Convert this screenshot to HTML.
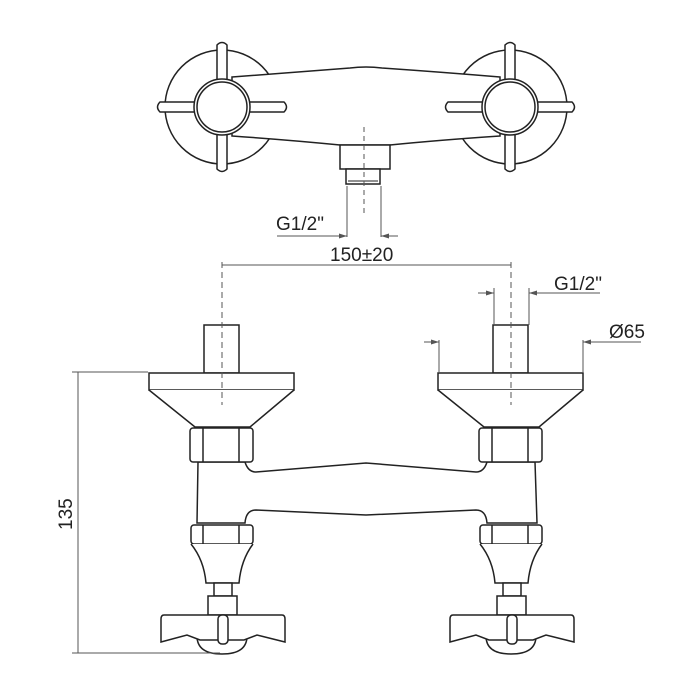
<!DOCTYPE html>
<html><head><meta charset="utf-8"><style>
html,body{margin:0;padding:0;background:#fff;width:700px;height:700px;overflow:hidden}
svg{display:block}
text{font-family:"Liberation Sans Narrow","Liberation Sans",sans-serif;fill:#222;font-size:19px}
</style></head><body>
<svg width="700" height="700" viewBox="0 0 700 700" xmlns="http://www.w3.org/2000/svg">
<defs>
<marker id="ar" markerWidth="8" markerHeight="6" refX="8" refY="3" orient="auto" markerUnits="userSpaceOnUse"><path d="M0,0.5 L8,3 L0,5.5" fill="#555"/></marker>
<g id="topknob" fill="#fff" stroke="#222" stroke-width="1.5">
  <circle cx="0" cy="0" r="57"/>
</g>
<g id="cross" fill="#fff" stroke="#222" stroke-width="1.5">
  <path d="M-62,-5 L62,-5 Q67,0 62,5 L-62,5 Q-67,0 -62,-5Z"/>
  <path d="M-5,-62 L-5,62 Q0,67 5,62 L5,-62 Q0,-67 -5,-62Z"/>
  <circle cx="0" cy="0" r="28"/>
  <circle cx="0" cy="0" r="25"/>
</g>
<g id="unit" fill="#fff" stroke="#222" stroke-width="1.5">
  <rect x="-18" y="325" width="35" height="48"/>
  <rect x="-73" y="373" width="145" height="17"/>
  <path d="M-73,390 L-27,427 L28,427 L72,390"/>
  <rect x="-32" y="428" width="63" height="34" rx="3"/>
  <line x1="-19" y1="428" x2="-19" y2="462"/><line x1="17" y1="428" x2="17" y2="462"/>
  <rect x="-31" y="525" width="62" height="19" rx="3"/>
  <line x1="-19" y1="525" x2="-19" y2="544"/><line x1="17" y1="525" x2="17" y2="544"/>
  <path d="M-31,544 Q-18,560 -16,583 L17,583 Q19,560 31,544"/>
  <rect x="-8" y="583" width="18" height="13"/>
  <rect x="-14" y="596" width="29" height="19"/>
  <path d="M-25,636 Q-25,654 0,654 Q25,654 25,636"/>
  <path d="M-58,615 L60,615 Q63,615 63,619 L63,642 L35,635 L22,640 L-22,640 L-35,635 L-61,642 L-61,619 Q-61,615 -58,615Z"/>
  <rect x="-4" y="615" width="10" height="29" rx="4"/>
</g>
</defs>

<use href="#topknob" x="222" y="107"/>
<use href="#topknob" x="510" y="107"/>
<path d="M232,77 Q300,72 350,68 Q366,66 382,68 Q440,72 500,77 L500,136 Q440,140 390,145 L340,145 Q290,140 232,136Z" fill="#fff" stroke="#222" stroke-width="1.5"/>
<rect x="340" y="145" width="50" height="24" fill="#fff" stroke="#222" stroke-width="1.5"/>
<rect x="346" y="169" width="34" height="15" fill="#fff" stroke="#222" stroke-width="1.5"/>
<line x1="348" y1="181" x2="378" y2="181" stroke="#222" stroke-width="1"/>
<use href="#cross" x="222" y="107"/>
<use href="#cross" x="510" y="107"/>
<line x1="364" y1="127" x2="364" y2="213" stroke="#555" stroke-dasharray="5,4"/>
<line x1="347" y1="186" x2="347" y2="237" stroke="#555"/>
<line x1="381" y1="186" x2="381" y2="237" stroke="#555"/>
<line x1="277" y1="236" x2="347" y2="236" stroke="#555" marker-end="url(#ar)"/>
<line x1="398" y1="236" x2="381" y2="236" stroke="#555" marker-end="url(#ar)"/>
<text x="276" y="230">G1/2"</text>

<path d="M198,462 L245,462 Q248,472 256,472 L366,463 L476,472 Q484,472 487,462 L535,462 L537,523 L487,523 Q486,510 476,510 L366,515 L256,510 Q246,510 245,523 L197,523Z" fill="#fff" stroke="#222" stroke-width="1.5"/>
<use href="#unit" x="222" y="0"/>
<use href="#unit" x="511" y="0"/>
<line x1="222" y1="262" x2="222" y2="405" stroke="#555" stroke-dasharray="6,4"/>
<line x1="511" y1="262" x2="511" y2="405" stroke="#555" stroke-dasharray="6,4"/>

<line x1="222" y1="265" x2="511" y2="265" stroke="#555"/>
<text x="330" y="261">150±20</text>
<line x1="494" y1="288" x2="494" y2="325" stroke="#555"/>
<line x1="529" y1="288" x2="529" y2="325" stroke="#555"/>
<line x1="478" y1="293" x2="494" y2="293" stroke="#555" marker-end="url(#ar)"/>
<line x1="600" y1="293" x2="529" y2="293" stroke="#555" marker-end="url(#ar)"/>
<text x="554" y="290">G1/2"</text>
<line x1="439" y1="340" x2="439" y2="373" stroke="#555"/>
<line x1="583" y1="340" x2="583" y2="373" stroke="#555"/>
<line x1="424" y1="342" x2="439" y2="342" stroke="#555" marker-end="url(#ar)"/>
<line x1="641" y1="342" x2="583" y2="342" stroke="#555" marker-end="url(#ar)"/>
<text x="609" y="338">Ø65</text>
<line x1="72" y1="372" x2="148" y2="372" stroke="#555"/>
<line x1="72" y1="653" x2="220" y2="653" stroke="#555"/>
<line x1="78" y1="372" x2="78" y2="653" stroke="#555"/>
<text x="0" y="0" transform="translate(72,530) rotate(-90)">135</text>
</svg>
</body></html>
